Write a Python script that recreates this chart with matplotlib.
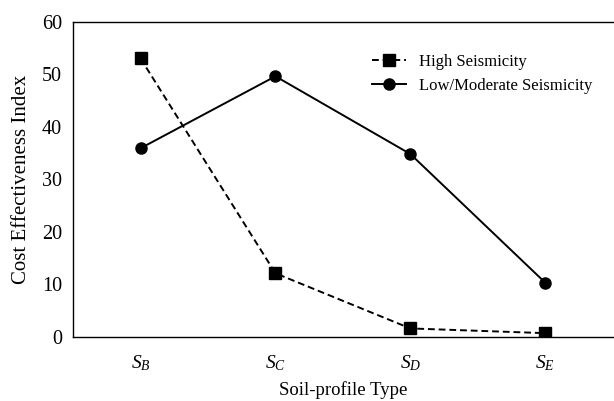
import matplotlib
matplotlib.use("Agg")
import matplotlib.pyplot as plt

plt.rcParams['font.family'] = ['Liberation Serif', 'DejaVu Serif']
plt.rcParams['mathtext.fontset'] = 'custom'
plt.rcParams['mathtext.it'] = 'Liberation Serif:italic'
plt.rcParams['mathtext.rm'] = 'Liberation Serif'

# data
soil_types = ['$S_B$', '$S_C$', '$S_D$', '$S_E$']
high_seismicity = [53.0, 12.1, 1.6, 0.7]
low_moderate_seismicity = [35.9, 49.6, 34.8, 10.3]
y_ticks = [0, 10, 20, 30, 40, 50, 60]

x = list(range(1, len(soil_types) + 1))

fig = plt.figure(figsize=(6.14, 4.01), dpi=100)
ax = fig.add_axes([0.119, 0.160, 0.879, 0.786])

ax.plot(x, high_seismicity, color='black', linestyle='--', linewidth=1.4,
        marker='s', markersize=8.5, dashes=(3.5, 2), label='High Seismicity')
ax.plot(x, low_moderate_seismicity, color='black', linestyle='-', linewidth=1.4,
        marker='o', markersize=8, label='Low/Moderate Seismicity')

ax.set_xlim(0.5, 4.5)
ax.set_ylim(0, 60)
ax.set_xticks(x)
ax.set_xticklabels(soil_types, fontsize=14)
ax.set_yticks(y_ticks)
ax.tick_params(axis='both', length=0)
ax.tick_params(axis='y', labelsize=14.5, pad=8)
ax.tick_params(axis='x', pad=12)

ax.set_xlabel('Soil-profile Type', fontsize=13.5, labelpad=6)
ax.set_ylabel('Cost Effectiveness Index', fontsize=15, labelpad=8)

ax.legend(loc='upper right', bbox_to_anchor=(0.99, 0.945), frameon=False,
          fontsize=12, handlelength=2.0, handletextpad=0.8, labelspacing=0.5)

ax.spines['right'].set_visible(False)
for s in ax.spines.values():
    s.set_linewidth(1.0)

fig.savefig('out.png', dpi=100)
